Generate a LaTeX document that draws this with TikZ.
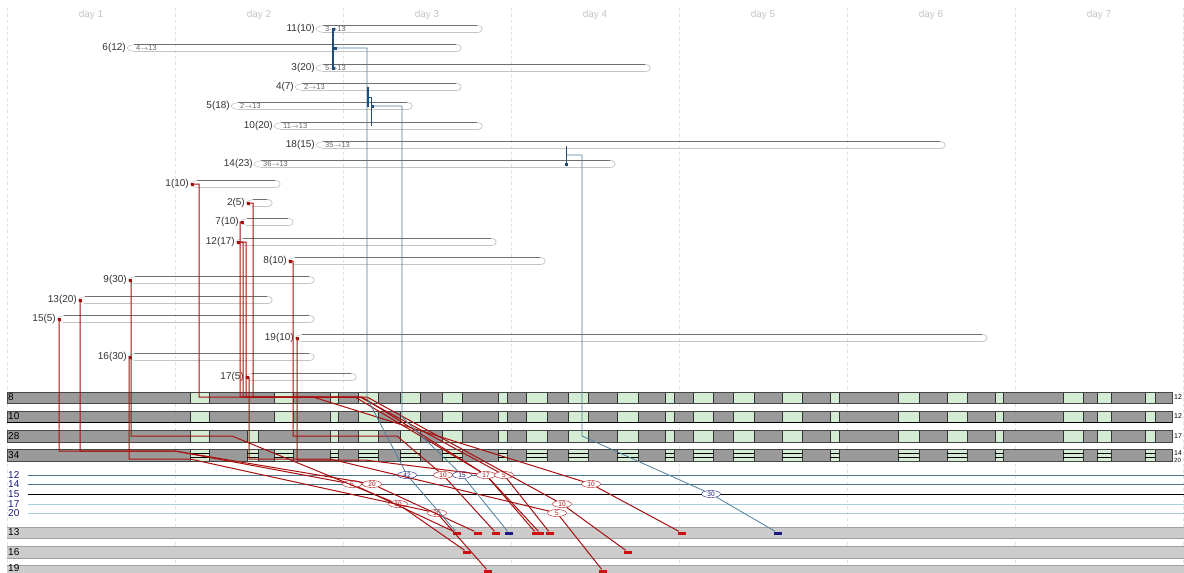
\documentclass[tikz,border=0pt]{standalone}
\usepackage{fontspec}
\setmainfont{Liberation Sans}
\usetikzlibrary{shapes.geometric, positioning}
\definecolor{daygrid}{HTML}{E2E2E2}
\definecolor{daytext}{HTML}{C4C4C4}
\definecolor{lbltext}{HTML}{333333}
\definecolor{barhi}{HTML}{707070}
\definecolor{barlo}{HTML}{C4C4C4}
\definecolor{machine}{HTML}{9A9A9A}
\definecolor{idle}{HTML}{D3ECD3}
\definecolor{buffer}{HTML}{CCCCCC}
\definecolor{linkred}{HTML}{A81010}
\definecolor{markred}{HTML}{D01010}
\definecolor{linkblue}{HTML}{4F7F9A}
\definecolor{darkblue}{HTML}{1F4E79}
\definecolor{navy}{HTML}{1A1A80}
\definecolor{steel}{HTML}{4A7490}
\definecolor{paleblue}{HTML}{A9CDE0}
\tikzset{
  daylbl/.style={font=\fontsize{10}{11}\selectfont, text=daytext},
  joblbl/.style={font=\fontsize{10}{11}\selectfont, text=lbltext, inner sep=1pt},
  routetxt/.style={font=\fontsize{7.5}{8}\selectfont, text=gray!80!black, inner sep=0pt},
  rowlbl/.style={font=\fontsize{10}{10}\selectfont, inner sep=0pt, anchor=west},
  sidelbl/.style={font=\fontsize{7}{7}\selectfont, inner sep=0pt, anchor=west},
  redlink/.style={draw=linkred, line width=1pt},
  bluelink/.style={draw=linkblue, line width=0.8pt},
  bluetick/.style={draw=darkblue, line width=1.4pt},
  taskoval/.style={ellipse, draw=#1, fill=white, text=#1, inner sep=0pt,
    minimum width=19pt, minimum height=7pt, font=\fontsize{6.5}{6.5}\selectfont},
  endmark/.style={rectangle, fill=#1, inner sep=0pt, minimum width=8pt, minimum height=3pt},
  startdot/.style={rectangle, fill=#1, inner sep=0pt, minimum size=3pt},
}
% one job: name, y, start x, end x, label, route text
\newcommand{\jobbar}[6]{%
  \node[joblbl, anchor=east] (#1-lbl) at (#3,#2) {#5};
  \draw[barlo, line width=0.7pt] ({#3+7},{#2+3.5}) -- ({#4-6},{#2+3.5})
    .. controls ({#4+1},{#2+3.5}) and ({#4+1},{#2-3.5}) .. ({#4-6},{#2-3.5});
  \draw[barhi, line width=0.6pt] ({#4-6},{#2-3.5}) -- ({#3+7},{#2-3.5});
  \draw[barlo, line width=0.6pt] ({#3+7},{#2-3.5}) .. controls ({#3+1},{#2-2}) .. (#3,#2)
    .. controls ({#3+1},{#2+2}) .. ({#3+7},{#2+3.5});
  \node[routetxt, anchor=west] at ({#3+9},#2) {#6};
  \coordinate (#1) at ({#3+2},#2);
}
% one machine band: top y, bottom y, idle spans
\newcommand{\machineband}[3]{%
  \fill[machine] (7,#1) rectangle (1172,#2);
  \foreach \a/\b in {#3} {
    \fill[idle] (\a,#1) rectangle (\b,#2);
    \draw[gray!40!black, line width=0.4pt] (\a,#1) -- (\a,#2) (\b,#1) -- (\b,#2);
  }
  \draw[gray!55!black, line width=0.5pt] (7,#1) rectangle (1172,#2);
}
\begin{document}
\begin{tikzpicture}[x=1pt, y=-1pt]
\useasboundingbox (0,0) rectangle (1184,573);
\fill[white] (0,0) rectangle (1184,573);

% days
\foreach \x in {7,175,...,1183}
  \draw[daygrid, dashed, line width=0.6pt] (\x,8) -- (\x,573);
\foreach \d in {1,...,7}
  \node[daylbl] (day\d) at ({91+168*(\d-1)},15) {day \d};

% machines
\machineband{392}{403}{190/209,274/293,330/338,358/378,400/420,442/462,498/507,526/547,568/588,617/638,665/674,693/713,733/754,782/802,830/839,898/919,947/967,995/1003,1063/1083,1097/1111,1145/1155}
\machineband{411}{422}{190/209,274/293,330/338,358/378,400/420,442/462,498/507,526/547,568/588,617/638,665/674,693/713,733/754,782/802,830/839,898/919,947/967,995/1003,1063/1083,1097/1111,1145/1155}
\draw[black, line width=0.7pt] (7,422) -- (1172,422);
\machineband{430}{442}{190/209,247/258,330/338,358/378,400/420,442/462,498/507,526/547,568/588,617/638,665/674,693/713,733/754,782/802,830/839,898/919,947/967,995/1003,1063/1083,1097/1111,1145/1155}
\machineband{449}{461}{190/209,247/258,274/293,330/338,358/378,400/420,442/462,498/507,526/547,568/588,617/638,665/674,693/713,733/754,782/802,830/839,898/919,947/967,995/1003,1063/1083,1097/1111,1145/1155}
\foreach \a/\b in {190/209,247/258,274/293,330/338,358/378,400/420,442/462,498/507,526/547,568/588,617/638,665/674,693/713,733/754,782/802,830/839,898/919,947/967,995/1003,1063/1083,1097/1111,1145/1155}
  \draw[black, line width=0.6pt] (\a,453.5) -- (\b,453.5) (\a,457) -- (\b,457);

\node[rowlbl] (m8) at (8,397) {8};
\node[rowlbl] (m10) at (8,416) {10};
\node[rowlbl] (m28) at (8,436) {28};
\node[rowlbl] (m34) at (8,455) {34};
\node[sidelbl] (s8) at (1174,397) {12};
\node[sidelbl] (s10) at (1174,416) {12};
\node[sidelbl] (s28) at (1174,436) {17};
\node[sidelbl] (s34) at (1174,453) {14};
\node[sidelbl, font=\fontsize{6}{6}\selectfont] (s34b) at (1174,460) {20};

% transport lines
\draw[steel, line width=0.7pt] (28,475) -- (1184,475);
\draw[steel, line width=0.7pt] (28,484) -- (1184,484);
\draw[black, line width=0.7pt] (28,494) -- (1184,494);
\draw[paleblue, line width=0.7pt] (28,504) -- (1184,504);
\draw[paleblue, line width=0.7pt] (28,513) -- (1184,513);
\node[rowlbl, text=navy] (l12) at (8,475) {12};
\node[rowlbl, text=navy] (l14) at (8,484) {14};
\node[rowlbl, text=navy] (l15) at (8,494) {15};
\node[rowlbl, text=navy] (l17) at (8,504) {17};
\node[rowlbl, text=navy] (l20) at (8,513) {20};

% buffers
\foreach \t/\b in {527/538,546/558,565/577}
  \draw[buffer, fill=buffer] (7,\t) rectangle (1184,\b);
\foreach \t in {527,538,546,558,565}
  \draw[gray!75, line width=0.5pt] (7,\t) -- (1184,\t);
\node[rowlbl] (b13) at (8,532) {13};
\node[rowlbl] (b16) at (8,552) {16};
\node[rowlbl] (b19) at (8,568) {19};

% jobs
\jobbar{j11}{29}{316}{483}{11(10)}{3$\to$13}
\jobbar{j6}{48}{127}{462}{6(12)}{4$\to$13}
\jobbar{j3}{68}{316}{651}{3(20)}{5$\to$13}
\jobbar{j4}{87}{295}{462}{4(7)}{2$\to$13}
\jobbar{j5}{106}{231}{413}{5(18)}{2$\to$13}
\jobbar{j10}{126}{274}{483}{10(20)}{11$\to$13}
\jobbar{j18}{145}{316}{946}{18(15)}{35$\to$13}
\jobbar{j14}{164}{254}{616}{14(23)}{36$\to$13}
\jobbar{j1}{184}{190}{281}{1(10)}{}
\jobbar{j2}{203}{246}{273}{2(5)}{}
\jobbar{j7}{222}{240}{294}{7(10)}{}
\jobbar{j12}{242}{236}{497}{12(17)}{}
\jobbar{j8}{261}{288}{546}{8(10)}{}
\jobbar{j9}{280}{128}{315}{9(30)}{}
\jobbar{j13}{300}{78}{273}{13(20)}{}
\jobbar{j15}{319}{57}{315}{15(5)}{}
\jobbar{j19}{338}{295}{988}{19(10)}{}
\jobbar{j16}{357}{128}{315}{16(30)}{}
\jobbar{j17}{377}{245}{357}{17(5)}{}

% transfer tags
\node[taskoval=navy] (o42) at (407,475) {42};
\node[taskoval=linkred] (o10a) at (443,475) {10};
\node[taskoval=navy] (o15) at (462,475) {15};
\node[taskoval=linkred] (o17) at (486,475) {17};
\node[taskoval=linkred] (o5a) at (504,475) {5};
\node[taskoval=linkred] (o5b) at (352,484) {5};
\node[taskoval=linkred] (o20) at (372,484) {20};
\node[taskoval=linkred] (o10c) at (591,484) {10};
\node[taskoval=navy] (o30c) at (711,494) {30};
\node[taskoval=linkred] (o30a) at (398,504) {30};
\node[taskoval=linkred] (o10b) at (562,504) {10};
\node[taskoval=linkred] (o30b) at (437,513) {30};
\node[taskoval=linkred] (o5c) at (557,513) {5};

% arrivals
\node[endmark=markred] (t457) at (457,533) {};
\node[endmark=markred] (t478) at (478,533) {};
\node[endmark=markred] (t496) at (496,533) {};
\node[endmark=navy] (tb509) at (509,533) {};
\node[endmark=markred] (t537) at (536,533) {};
\node[endmark=markred] (t540) at (540,533) {};
\node[endmark=markred] (t550) at (550,533) {};
\node[endmark=markred] (t682) at (682,533) {};
\node[endmark=navy] (tb778) at (778,533) {};
\node[endmark=markred] (t467) at (467,552) {};
\node[endmark=markred] (t628) at (628,552) {};
\node[endmark=markred] (t488) at (488,571) {};
\node[endmark=markred] (t603) at (603,571) {};

% red routes
\draw[redlink] (j1) -| (199,397) -- (367,397) -- (o10b) -- (t628);
\draw[redlink] (j2) -| (253,397) -- (360,397) -- (o5a) -- (t550);
\draw[redlink] (j7) -| (240,397) -- (313,397) -- (o10c) -- (t682);
\draw[redlink] (j12) -| (243,397) -- (355,397) -- (o17) -- (t537);
\draw[redlink] (j12) -| (246,397) -- (362,397) -- (o17) -- (t540);
\draw[redlink] (j8) -| (293,436) -- (397,436) -- (o10a) -- (t496);
\draw[redlink] (j9) -| (131,436) -- (232,436) -- (o30a) -- (t467);
\draw[redlink] (j13) -| (80,451) -- (175,451) -- (o20) -- (t478);
\draw[redlink] (j15) -| (59,451) -- (175,451) -- (o5b) -- (t457);
\draw[redlink] (j16) -| (129,459) -- (190,459) -- (o30b) -- (t488);
\draw[redlink] (j17) -| (249,459) -- (330,459) -- (o5c) -- (t603);
\draw[redlink] (j19) -| (297,460) -- (365,460) -- (o17);
\foreach \j in {j1,j2,j7,j12,j8,j9,j13,j15,j16,j17,j19}
  \node[startdot=linkred] at (\j) {};

% blue routes
\coordinate (j11-out) at (333,29);
\coordinate (j3-in) at (333,68);
\coordinate (j6-out) at (335,48);
\coordinate (j4-out) at (368,87);
\coordinate (j5-out) at (372,106);
\coordinate (j10-in) at (371,126);
\coordinate (j18-out) at (566,146);
\coordinate (j14-in) at (566,164);
\draw[bluetick] (j11-out) -- (j3-in);
\draw[bluelink] (j6-out) -- (367,48) -- (367,398) -- (o42) -- (t457);
\draw[bluetick] (j4-out) -- (368,107);
\draw[bluetick, line width=1pt] (368,97) -- (371,97) -- (j10-in);
\draw[bluelink] (j5-out) -- (402,106) -- (402,417) -- (o15) -- (tb509);
\draw[bluetick, line width=1pt] (j18-out) -- (j14-in);
\draw[bluelink] (567,155) -- (582,155) -- (582,436) -- (o30c) -- (tb778);
\foreach \j in {j11-out,j3-in,j6-out,j5-out,j14-in}
  \node[startdot=darkblue] at (\j) {};
\end{tikzpicture}
\end{document}
